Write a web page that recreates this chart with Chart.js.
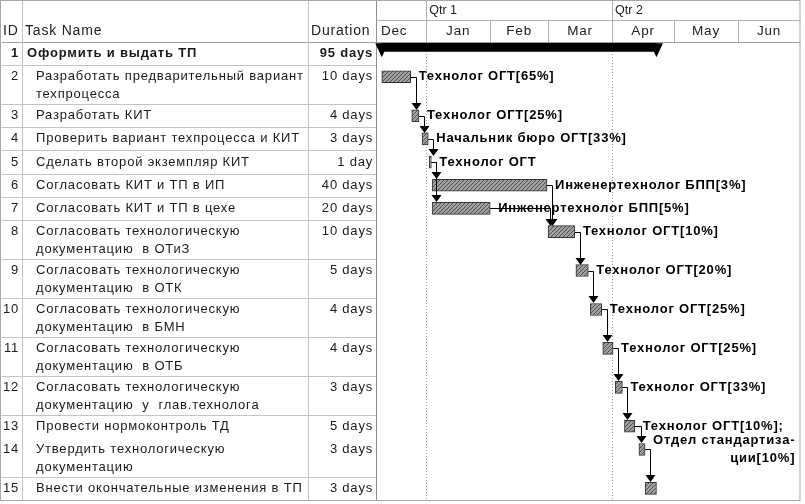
<!DOCTYPE html>
<html lang="ru">
<head>
  <meta charset="UTF-8">
  <meta name="viewport" content="width=device-width, initial-scale=1.0">
  <title>Gantt Chart</title>
  <style>
    html, body { margin: 0; padding: 0; background: #fff; }
    .chart-container { width: 805px; height: 504px; position: relative; }
  </style>
</head>
<body>
  <div class="chart-container">
    <canvas id="myChart"></canvas>
  </div>

  <script src="https://cdn.jsdelivr.net/npm/chart.js"></script>
  <script>
    // Task table. Days are counted from 1 Jan (negative = December).
    const taskIds = [1, 2, 3, 4, 5, 6, 7, 8, 9, 10, 11, 12, 13, 14, 15];
    const taskNames = [
      ['Оформить и выдать ТП'],
      ['Разработать предварительный вариант', 'техпроцесса'],
      ['Разработать КИТ'],
      ['Проверить вариант техпроцесса и КИТ'],
      ['Сделать второй экземпляр КИТ'],
      ['Согласовать КИТ и ТП в ИП'],
      ['Согласовать КИТ и ТП в цехе'],
      ['Согласовать технологическую', 'документацию  в ОТиЗ'],
      ['Согласовать технологическую', 'документацию  в ОТК'],
      ['Согласовать технологическую', 'документацию  в БМН'],
      ['Согласовать технологическую', 'документацию  в ОТБ'],
      ['Согласовать технологическую', 'документацию  у  глав.технолога'],
      ['Провести нормоконтроль ТД'],
      ['Утвердить технологическую', 'документацию'],
      ['Внести окончательные изменения в ТП']
    ];
    const durations = ['95 days', '10 days', '4 days', '3 days', '1 day', '40 days', '20 days',
      '10 days', '5 days', '4 days', '4 days', '3 days', '5 days', '3 days', '3 days'];
    const taskStart = [-21.5, -21.5, -7, -2, 1.5, 3, 3, 59, 72.5, 79.5, 85.5, 91.5, 96, 103, 106];
    const taskEnd = [111.5, -7.5, -3.5, 1, 2.5, 58.5, 31, 72, 78.5, 85, 90.5, 95, 101, 106, 111.5];
    const resources = [
      [], ['Технолог ОГТ[65%]'], ['Технолог ОГТ[25%]'], ['Начальник бюро ОГТ[33%]'], ['Технолог ОГТ'],
      ['Инженертехнолог БПП[3%]'], ['Инженертехнолог БПП[5%]'], ['Технолог ОГТ[10%]'],
      ['Технолог ОГТ[20%]'], ['Технолог ОГТ[25%]'], ['Технолог ОГТ[25%]'], ['Технолог ОГТ[33%]'],
      ['Технолог ОГТ[10%];'], ['Отдел стандартиза-', 'ции[10%]'], []
    ];
    // Finish-to-start links [predecessor id, successor id].
    const links = [[2, 3], [3, 4], [4, 5], [5, 6], [5, 7], [6, 8], [7, 8], [8, 9],
      [9, 10], [10, 11], [11, 12], [12, 13], [13, 14], [14, 15]];

    // Timescale.
    const monthNames = ['Dec', 'Jan', 'Feb', 'Mar', 'Apr', 'May', 'Jun'];
    const monthStarts = [-31, 0, 31, 59, 90, 120, 151, 181];
    const quarterNames = ['Qtr 1', 'Qtr 2'];
    const quarterStarts = [0, 90];
    const VIEW_MIN = -24.3;
    const VIEW_MAX = 181;

    const FONT = "'Liberation Sans', Arial, sans-serif";
    const SPACING = '0.8px';
    const TABLE_RIGHT = 376;
    const HEADER_H = 42;

    // Row heights follow the number of text lines in the task name.
    const rowWeight = taskNames.map(n => n.length === 1 ? 1 : 1.68);
    const rowStart = [];
    rowWeight.reduce((acc, w, i) => { rowStart[i] = acc; return acc + w; }, 0);
    const totalRows = rowWeight.reduce((a, b) => a + b, 0);
    const barY = i => rowStart[i] + 0.5;

    function makeHatch() {
      const c = document.createElement('canvas');
      c.width = 4; c.height = 4;
      const g = c.getContext('2d');
      g.fillStyle = '#a0a0a0';
      g.fillRect(0, 0, 4, 4);
      g.strokeStyle = '#505050';
      g.lineWidth = 1;
      g.beginPath();
      g.moveTo(0, 4); g.lineTo(4, 0);
      g.moveTo(-1, 1); g.lineTo(1, -1);
      g.moveTo(3, 5); g.lineTo(5, 3);
      g.stroke();
      return g.createPattern(c, 'repeat');
    }

    function line(ctx, x1, y1, x2, y2, color) {
      ctx.strokeStyle = color;
      ctx.lineWidth = 1;
      ctx.beginPath();
      ctx.moveTo(Math.round(x1) + 0.5, Math.round(y1) + 0.5);
      ctx.lineTo(Math.round(x2) + 0.5, Math.round(y2) + 0.5);
      ctx.stroke();
    }

    /**
     * Table on the left and the timescale header.
     */
    const tablePlugin = {
      id: 'ganttTable',
      beforeDraw(chart) {
        const {ctx, width, height, scales: {x, y}, chartArea} = chart;
        const bottom = chartArea.bottom;
        ctx.save();
        ctx.fillStyle = '#fff';
        ctx.fillRect(0, 0, width, height);

        // Header texts.
        ctx.fillStyle = '#222';
        ctx.textBaseline = 'middle';
        ctx.letterSpacing = SPACING;
        ctx.font = `14px ${FONT}`;
        ctx.textAlign = 'left';
        ctx.fillText('ID', 3, 31);
        ctx.fillText('Task Name', 25, 31);
        ctx.fillText('Duration', 311, 31);

        // Rows.
        taskIds.forEach((id, i) => {
          const top = y.getPixelForValue(rowStart[i]);
          const lh = (y.getPixelForValue(rowStart[i] + 1) - top);
          const summary = i === 0;
          ctx.fillStyle = '#1a1a1a';
          ctx.font = `${summary ? 'bold ' : ''}13px ${FONT}`;
          ctx.textAlign = 'right';
          ctx.fillText(String(id), 19, top + lh / 2);
          ctx.fillText(durations[i], 373, top + lh / 2);
          ctx.textAlign = 'left';
          taskNames[i].forEach((t, k) => {
            ctx.fillText(t, summary ? 27 : 36, top + lh / 2 + k * 18);
          });
          // Row separator (none between 13 and 14 in the source).
          if (i > 0 && id !== 14) line(ctx, 1, top, TABLE_RIGHT, top, '#c4c4c4');
        });
        line(ctx, 1, HEADER_H, width - 5, HEADER_H, '#a0a0a0');

        // Table columns.
        line(ctx, 22, 0, 22, bottom, '#c4c4c4');
        line(ctx, 308, 0, 308, bottom, '#c4c4c4');
        line(ctx, TABLE_RIGHT, 0, TABLE_RIGHT, bottom, '#909090');

        // Timescale header.
        const left = chartArea.left, right = chartArea.right;
        line(ctx, left, 20, right, 20, '#b0b0b0');
        ctx.save();
        ctx.beginPath();
        ctx.rect(left + 1, 0, right - left - 1, HEADER_H);
        ctx.clip();
        ctx.fillStyle = '#222';
        ctx.font = `13.5px ${FONT}`;
        monthNames.forEach((m, i) => {
          const a = x.getPixelForValue(monthStarts[i]);
          const b = x.getPixelForValue(monthStarts[i + 1]);
          ctx.textAlign = 'center';
          ctx.fillText(m, (a + b) / 2, 31);
          if (a > left) line(ctx, a, 20, a, HEADER_H, '#b0b0b0');
        });
        ctx.letterSpacing = '0px';
        ctx.font = `12.5px ${FONT}`;
        quarterNames.forEach((q, i) => {
          const a = x.getPixelForValue(quarterStarts[i]);
          ctx.textAlign = 'left';
          ctx.fillText(q, a + 3, 11);
          line(ctx, a, 0, a, 20, '#b0b0b0');
        });
        ctx.restore();

        // Frame.
        ctx.strokeStyle = '#a8a8a8';
        ctx.strokeRect(0.5, 0.5, right - 0.5, bottom);
        ctx.restore();
      }
    };

    /**
     * Summary caps, links and resource labels.
     */
    const marksPlugin = {
      id: 'ganttMarks',
      afterDatasetsDraw(chart) {
        const {ctx, scales: {x, y}} = chart;
        ctx.save();

        // Summary bar caps.
        const sBar = chart.getDatasetMeta(1).data[0];
        const sTop = sBar.y - sBar.height / 2;
        ctx.fillStyle = '#000';
        [taskStart[0], taskEnd[0]].forEach(d => {
          const px = x.getPixelForValue(d);
          ctx.beginPath();
          ctx.moveTo(px - 6.5, sTop);
          ctx.lineTo(px + 6.5, sTop);
          ctx.lineTo(px, sTop + sBar.height + 6);
          ctx.closePath();
          ctx.fill();
        });

        // Links.
        const half = 6;
        links.forEach(([p, s]) => {
          const pi = p - 1, si = s - 1;
          const pEnd = x.getPixelForValue(taskEnd[pi]);
          const pY = Math.round(y.getPixelForValue(barY(pi)));
          const sStart = x.getPixelForValue(taskStart[si]);
          const sTopY = Math.round(y.getPixelForValue(barY(si))) - half;
          const vx = Math.round(Math.max(pEnd + 5, sStart + 2));
          ctx.strokeStyle = '#000';
          ctx.lineWidth = 1;
          ctx.beginPath();
          ctx.moveTo(pEnd, pY + 0.5);
          ctx.lineTo(vx + 0.5, pY + 0.5);
          ctx.lineTo(vx + 0.5, sTopY - 6);
          ctx.stroke();
          ctx.fillStyle = '#000';
          ctx.beginPath();
          ctx.moveTo(vx - 4.5, sTopY - 7);
          ctx.lineTo(vx + 5.5, sTopY - 7);
          ctx.lineTo(vx + 0.5, sTopY);
          ctx.closePath();
          ctx.fill();
        });

        // Resource labels.
        ctx.fillStyle = '#000';
        ctx.letterSpacing = SPACING;
        ctx.font = `bold 13px ${FONT}`;
        ctx.textBaseline = 'middle';
        resources.forEach((lines, i) => {
          if (!lines.length) return;
          const lx = x.getPixelForValue(taskEnd[i]) + 8;
          const cy = y.getPixelForValue(barY(i));
          const w0 = ctx.measureText(lines[0]).width;
          lines.forEach((t, k) => {
            const ty = cy + (k - (lines.length - 1) / 2) * 18;
            if (k === 0) {
              ctx.textAlign = 'left';
              ctx.fillText(t, lx, ty);
            } else {
              ctx.textAlign = 'right';
              ctx.fillText(t, lx + w0, ty);
            }
          });
        });
        ctx.restore();
      }
    };

    function drawChart() {
      const myChart = document.querySelector('#myChart');
      const hatch = makeHatch();

      const taskData = taskIds.slice(1).map((id, k) => ({
        x: [taskStart[k + 1], taskEnd[k + 1]],
        y: barY(k + 1)
      }));

      const config = {
        type: 'bar',
        data: {
          datasets: [
            {
              label: 'Tasks',
              data: taskData,
              backgroundColor: hatch,
              borderColor: '#333',
              borderWidth: 1,
              borderSkipped: false,
              barThickness: 12,
              grouped: false
            },
            {
              label: 'Summary',
              data: [{x: [taskStart[0], taskEnd[0]], y: rowStart[0] + 0.23}],
              backgroundColor: '#000',
              borderWidth: 0,
              barThickness: 8,
              grouped: false
            }
          ]
        },
        options: {
          indexAxis: 'y',
          responsive: true,
          maintainAspectRatio: false,
          animation: false,
          layout: {padding: {left: TABLE_RIGHT, right: 5, top: HEADER_H, bottom: 4}},
          plugins: {
            legend: {display: false},
            title: {display: false},
            tooltip: {enabled: false}
          },
          scales: {
            x: {
              type: 'linear',
              position: 'top',
              min: VIEW_MIN,
              max: VIEW_MAX,
              afterBuildTicks: axis => {
                axis.ticks = quarterStarts.map(v => ({value: v}));
              },
              ticks: {display: false},
              // Dotted quarter lines.
              border: {display: false, dash: [1, 2]},
              grid: {
                drawTicks: false,
                color: '#9a9a9a',
                lineWidth: 1
              }
            },
            y: {
              type: 'linear',
              display: false,
              offset: false,
              reverse: true,
              min: 0,
              max: totalRows
            }
          }
        },
        plugins: [tablePlugin, marksPlugin]
      };

      return new Chart(myChart, config);
    }

    const chart = drawChart();
    window.chart = chart;
  </script>
</body>
</html>
